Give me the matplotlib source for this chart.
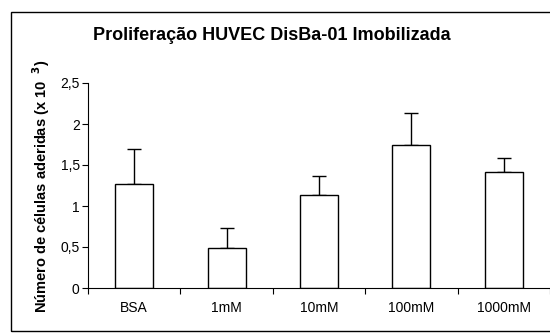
import matplotlib
matplotlib.use('Agg')
import matplotlib.pyplot as plt
from matplotlib.patches import Rectangle
import numpy as np

plt.rcParams['font.family'] = ['Liberation Sans', 'DejaVu Sans']

# data
categories = ['BSA', '1mM', '10mM', '100mM', '1000mM']
means = [1.27, 0.49, 1.13, 1.75, 1.42]
errors = [0.43, 0.24, 0.23, 0.38, 0.17]
yticks = [0, 0.5, 1, 1.5, 2, 2.5]
ytick_labels = ['0', '0,5', '1', '1,5', '2', '2,5']

fig = plt.figure(figsize=(5.5, 3.33), dpi=100)

# outer chart frame
fig.patches.append(Rectangle((11 / 550, 2 / 333), 1.2, 319 / 333, transform=fig.transFigure,
                             fill=False, edgecolor='black', linewidth=1.0))

ax = fig.add_axes([88 / 550, 1 - 288 / 333, 462 / 550, 205 / 333])

x = np.arange(len(categories))
ax.bar(x, means, width=0.41, color='white', edgecolor='black', linewidth=1.0, zorder=2)
ax.errorbar(x, means, yerr=[np.zeros(len(errors)), errors], fmt='none',
            ecolor='black', elinewidth=1.0, capsize=5, capthick=1.0, zorder=1)

ax.set_xlim(-0.5, len(categories) - 0.5)
ax.set_ylim(0, 2.5)
ax.set_yticks(yticks)
ax.set_yticklabels(ytick_labels)
ax.set_xticks(x)
ax.set_xticklabels(categories)
ax.set_xticks(np.arange(len(categories) + 1) - 0.5, minor=True)
ax.tick_params(axis='x', which='major', length=0, pad=9, labelsize=10)
ax.tick_params(axis='x', which='minor', length=4, direction='out', width=0.8)
ax.tick_params(axis='y', length=4, direction='out', width=0.8, labelsize=10, pad=2)

for side in ['top', 'right']:
    ax.spines[side].set_visible(False)
for side in ['left', 'bottom']:
    ax.spines[side].set_linewidth(0.8)

fig.text(272 / 550, 1 - 35 / 333, 'Proliferação HUVEC DisBa-01 Imobilizada',
         ha='center', va='center', fontsize=13, fontweight='bold')
fig.text(41 / 550, 1 - 186 / 333, 'Número de células aderidas (x 10  $^{\\mathbf{3}}$)',
         ha='center', va='center', rotation=90, fontsize=10.5, fontweight='bold')

fig.savefig('out.png', dpi=100)
